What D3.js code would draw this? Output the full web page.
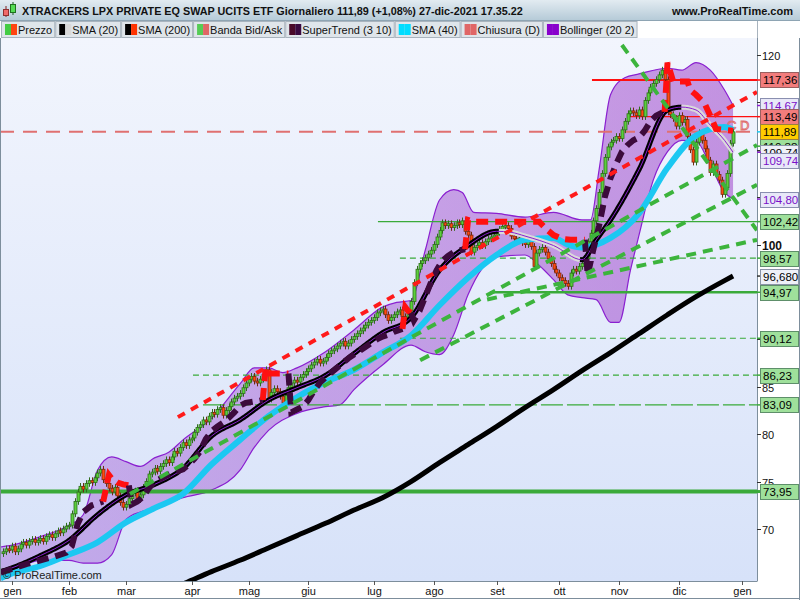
<!DOCTYPE html>
<html><head><meta charset="utf-8">
<script src="https://cdn.jsdelivr.net/npm/d3@7"></script>
<style>
body{margin:0;background:#fff;}
svg{display:block;font-family:"Liberation Sans",Arial,sans-serif;}
</style></head><body>
<svg id="c" width="800" height="600"></svg>
<script>
// ================= DATA =================
const titleText = "XTRACKERS LPX PRIVATE EQ SWAP UCITS ETF Giornaliero 111,89 (+1,08%) 27-dic-2021 17.35.22";
const siteText = "www.ProRealTime.com";
const legendNames = ["Prezzo","SMA (20)","SMA (200)","Banda Bid/Ask","SuperTrend (3 10)","SMA (40)","Chiusura (D)","Bollinger (20 2)"];
const monthLabels = ["gen","feb","mar","apr","mag","giu","lug","ago","set","ott","nov","dic","gen"];
const monthStartIdx = [0,20,40,63,83,104,127,148,170,192,213,234,256];
const yTickValues = [70,75,80,85,90,95,100,105,110,115,120];

// daily closes, trading-day index -3 .. 253
const firstIdx = -3;
const closes = [
 67.6,67.9,67.8,
 68.2,67.6,67.9,68.4,68.6,68.3,68.7,68.9,68.6,68.8,69.0,68.7,69.2,69.4,69.1,69.5,69.8,69.6,70.0,70.3,
 70.4,71.6,72.9,73.9,74.5,74.2,74.8,75.1,74.9,75.4,75.9,76.3,75.2,74.8,74.3,73.9,74.4,73.5,72.8,72.3,
 72.6,73.2,73.8,74.0,73.1,73.6,74.4,75.0,75.8,76.0,76.4,76.1,76.6,76.9,77.3,77.0,77.6,78.2,78.0,78.6,79.1,78.8,79.4,
 79.6,80.2,80.7,81.0,81.5,81.3,81.9,82.3,82.1,82.6,82.8,82.0,82.5,82.9,83.4,83.8,84.0,84.3,84.9,85.4,
 85.8,86.1,85.6,85.4,85.8,86.3,86.8,83.7,84.4,84.8,84.5,84.0,83.3,84.1,84.9,85.4,85.7,85.5,86.0,86.3,86.6,
 86.9,87.3,87.6,87.9,87.5,87.7,88.1,88.5,88.8,89.0,89.3,89.6,89.8,89.3,89.6,90.0,90.3,90.6,90.9,91.2,91.5,91.8,92.0,
 92.3,92.8,93.0,93.2,92.6,92.0,92.3,92.6,92.9,93.1,92.4,92.2,93.0,94.0,96.0,97.4,98.0,98.3,98.6,99.0,99.4,
 100.0,100.8,101.5,102.3,102.0,102.2,101.8,102.0,102.3,102.1,102.5,101.4,101.0,99.2,99.7,99.9,100.2,99.9,100.3,100.6,100.8,101.0,
 101.3,101.6,101.9,102.0,101.7,100.9,100.6,100.4,100.7,100.2,100.0,100.4,99.8,97.7,99.1,99.5,99.7,99.2,98.5,98.0,97.4,97.0,
 96.5,96.2,95.9,95.6,97.0,97.4,97.2,97.7,98.0,98.5,100.3,101.2,102.5,103.8,105.5,107.5,109.2,110.3,110.8,111.0,111.4,
 111.2,112.1,113.0,113.8,114.1,113.9,113.6,114.2,113.5,115.2,116.0,116.6,117.0,117.4,117.9,118.4,117.4,114.0,113.7,113.3,112.5,
 113.6,112.9,113.2,111.4,110.0,108.7,110.8,111.8,111.0,110.1,108.9,107.6,108.5,107.4,106.8,105.3,106.0,107.5,110.69,111.89
];

// SMA 20
const sma20Idx = [-4,0,10,20,30,40,50,60,70,80,90,100,110,120,130,140,150,160,170,175,180,190,200,205,210,220,230,235,240,245,250,253];
const sma20Val = [65.5,65.9,67.2,68.8,71.5,73.6,74.7,76.4,79.8,81.5,83.6,84.9,86.2,88.5,90.7,92.3,97.3,99.9,101.4,101.3,100.9,99.9,98.4,100.5,102.6,107.9,114.2,114.5,114.2,112.6,111.0,109.74];
// SMA 40
const sma40Idx = [-4,0,10,20,30,40,50,60,70,80,90,100,110,120,130,140,150,160,170,180,190,195,200,210,220,230,240,250,253];
const sma40Val = [64.8,65.3,66.1,67.3,68.6,70.7,72.2,73.7,76.8,79.4,81.9,83.9,85.5,86.8,88.6,90.4,93.6,96.5,98.9,100.5,100.7,100.0,99.7,100.7,103.3,108.1,111.5,112.4,112.1];
// SMA 200
const sma200Idx = [50,60,70,80,90,100,110,120,130,140,150,160,170,180,190,200,210,220,230,240,250,253];
const sma200Val = [63.0,64.2,65.5,66.7,68.0,69.3,70.6,72.0,73.3,75.0,77.0,78.9,80.8,82.8,84.7,86.7,88.6,90.6,92.6,94.5,96.2,96.68];
// Bollinger (20 2)
const bbUpIdx = [-4,0,10,20,25,30,35,40,45,50,55,60,70,80,85,90,95,100,110,120,130,135,140,145,150,155,158,162,170,180,190,200,203,206,210,215,220,230,235,240,245,250,253];
const bbUpVal = [68.1,68.3,69.2,70.4,71.5,76.2,77.6,77.1,76.6,77.5,78.1,79.4,81.7,85.3,87.0,87.0,86.5,87.0,88.7,91.0,93.4,93.9,94.1,99.4,104.7,105.8,105.5,103.4,103.3,102.9,103.4,102.6,102.6,107.9,115.8,117.6,118.0,118.6,118.4,119.2,118.4,116.3,114.67];
const bbLoIdx = [-4,0,10,20,25,30,35,40,45,50,60,70,80,85,90,100,110,115,120,130,140,145,150,155,160,165,170,180,185,190,195,200,205,210,213,217,220,225,230,235,240,245,250,253];
const bbLoVal = [65.5,65.7,66.7,66.7,66.4,66.4,67.3,71.0,71.8,72.2,73.3,74.1,76.2,78.6,80.4,82.2,82.9,83.1,84.7,87.3,89.4,88.7,88.4,90.5,94.7,97.5,98.7,98.9,97.8,96.3,94.7,94.4,94.2,91.8,91.8,97.3,101.0,106.8,109.8,111.0,110.9,108.4,105.5,104.8];

// SuperTrend (3 10): index, value, direction (1 up, -1 down)
const stIdx = [-4,0,5,10,15,19,21,23,25,28,32,
 34,35,37,39,41,
 42,44,46,48,50,52,54,56,58,60,62,64,66,68,70,72,74,76,78,80,82,84,86,88,
 89,90,92,94,96,97,
 98,100,102,104,106,108,110,112,114,116,118,120,122,124,126,128,130,132,134,136,137,
 138,139,140,
 141,143,145,147,149,151,153,155,157,159,
 160,162,165,170,175,180,185,188,190,193,196,199,201,
 202,204,206,208,210,212,214,216,218,220,222,224,226,228,229,
 230,231,232,235,237,238,240,242,243,245,247,250,253];
const stVal = [65.4,65.8,66.3,66.7,67.1,67.5,68.2,70.5,71.8,72.5,72.9,
 75.7,75.3,74.9,74.7,74.6,
 72.6,72.9,73.4,74.3,75.0,75.3,75.6,75.9,76.1,76.3,76.8,77.4,78.2,79.5,80.3,80.8,81.2,81.7,82.3,83.0,83.3,83.4,83.5,83.6,
 87.0,86.4,86.4,86.4,86.4,86.4,
 82.3,82.6,82.9,83.6,84.6,85.4,86.0,86.5,87.0,87.5,88.0,88.4,88.8,89.2,89.6,90.0,90.3,90.5,90.8,91.0,91.1,
 93.4,93.0,92.8,
 92.0,93.0,94.5,96.0,97.3,98.3,98.8,99.2,99.4,99.5,
 102.6,102.4,102.4,102.4,102.4,102.4,102.4,101.5,101.0,100.6,100.5,100.5,100.5,
 96.8,99.5,102.0,105.0,107.0,108.5,109.8,110.5,111.0,111.3,112.0,113.0,113.6,113.9,114.0,
 119.2,118.2,117.2,117.2,117.2,116.3,115.8,115.2,114.9,113.6,112.2,112.1,112.0];
const stDir = [1,1,1,1,1,1,1,1,1,1,1,
 -1,-1,-1,-1,-1,
 1,1,1,1,1,1,1,1,1,1,1,1,1,1,1,1,1,1,1,1,1,1,1,1,
 -1,-1,-1,-1,-1,-1,
 1,1,1,1,1,1,1,1,1,1,1,1,1,1,1,1,1,1,1,1,1,
 -1,-1,-1,
 1,1,1,1,1,1,1,1,1,1,
 -1,-1,-1,-1,-1,-1,-1,-1,-1,-1,-1,-1,-1,
 1,1,1,1,1,1,1,1,1,1,1,1,1,1,1,
 -1,-1,-1,-1,-1,-1,-1,-1,-1,-1,-1,-1,-1];

// horizontal levels (green)
const levelValues = [102.42,98.57,94.97,90.12,86.23,83.09,73.95];
const levelStartIdx = [128.4,136.1,167.7,136.1,63.5,67.0,-4.3];
// red horizontal lines
const redLevelValues = [117.36,113.49];
const redLevelStartIdx = [203.5,215.8];
// last close
const lastClose = 111.89;
// green dashed trend lines: start idx/val, end idx/val
const trendStartIdx = [41.4,143.2,166.7,214.0];
const trendStartVal = [73.7,87.8,94.2,121.05];
const trendEndIdx   = [261.4,261.4,261.4,261.4];
const trendEndVal   = [110.5,106.3,100.5,101.5];
// red dotted trend line
const redTrendIdx = [58.2,261.4];
const redTrendVal = [81.8,116.1];

// right-side value labels
const tagValues = [73.95,83.09,86.23,90.12,94.97,96.68,98.57,102.42,104.80,110.38,109.74,109.74,114.67,117.36,113.49,111.89];
const tagTexts  = ["73,95","83,09","86,23","90,12","94,97","96,680","98,57","102,42","104,80","110,38","109,74","109,74","114,67","117,36","113,49","111,89"];
const tagKinds  = ["lvl","lvl","lvl","lvl","lvl","sma","lvl","lvl","bb","lvl","sma","bb","bb","red","red","price"];

// ================= DRAW =================
const svg = d3.select("#c");
const PL=0, PR=757, PT=38, PB=581;
const x = d3.scaleLinear().domain([-4.21, 261.4]).range([0, 757]);
const y = d3.scaleLinear().domain([64.515, 121.79]).range([581, 38]);

const defs = svg.append("defs");
const gbg = defs.append("linearGradient").attr("id","pbg").attr("x1",0).attr("y1",0).attr("x2",0).attr("y2",1);
gbg.append("stop").attr("offset","0%").attr("stop-color","#f2f5fd");
gbg.append("stop").attr("offset","100%").attr("stop-color","#d7e2f9");
const gt = defs.append("linearGradient").attr("id","tbg").attr("x1",0).attr("y1",0).attr("x2",0).attr("y2",1);
gt.append("stop").attr("offset","0%").attr("stop-color","#e2ebf1");
gt.append("stop").attr("offset","100%").attr("stop-color","#b6cbd8");
const gbb = defs.append("linearGradient").attr("id","bbfill").attr("gradientUnits","userSpaceOnUse")
  .attr("x1",0).attr("y1",0).attr("x2",757).attr("y2",0);
gbb.append("stop").attr("offset","0%").attr("stop-color","#9a4ad0").attr("stop-opacity",0.36);
gbb.append("stop").attr("offset","50%").attr("stop-color","#9a40cc").attr("stop-opacity",0.44);
gbb.append("stop").attr("offset","100%").attr("stop-color","#9836c6").attr("stop-opacity",0.52);
defs.append("filter").attr("id","glow").attr("x","-2%").attr("y","-800%").attr("width","104%").attr("height","1700%")
  .append("feGaussianBlur").attr("stdDeviation",5);
defs.append("clipPath").attr("id","clip").append("rect").attr("x",PL).attr("y",PT).attr("width",PR-PL).attr("height",PB-PT);

// backgrounds
svg.append("rect").attr("width",800).attr("height",600).attr("fill","#ffffff");
svg.append("rect").attr("x",PL).attr("y",PT).attr("width",PR-PL).attr("height",PB-PT).attr("fill","url(#pbg)");

// title bar
svg.append("rect").attr("x",0).attr("y",0).attr("width",800).attr("height",20).attr("fill","url(#tbg)");
svg.append("line").attr("x1",0).attr("x2",800).attr("y1",20.5).attr("y2",20.5).attr("stroke","#8ea4b3");
svg.append("line").attr("x1",6).attr("x2",6).attr("y1",6).attr("y2",17).attr("stroke","#802020");
svg.append("rect").attr("x",3.5).attr("y",9.5).attr("width",5).attr("height",6).attr("fill","#f06a6a").attr("stroke","#903030");
svg.append("line").attr("x1",13).attr("x2",13).attr("y1",2).attr("y2",15).attr("stroke","#206020");
svg.append("rect").attr("x",10.5).attr("y",4.5).attr("width",5).attr("height",8).attr("fill","#55dd55").attr("stroke","#207020");
svg.append("text").attr("x",22).attr("y",15).attr("font-size",10.8).attr("font-weight","bold").attr("fill","#111").text(titleText);
svg.append("text").attr("x",793).attr("y",15).attr("text-anchor","end").attr("font-size",11).attr("font-weight","bold").attr("fill","#111").text(siteText);

// legend
const swatches = [["#44cc44","#ff4411"],["#000000","#d8d8d8"],["#000000","#ff3300"],["#55cc55","#e06666"],["#4a0a2a","#3a0a40"],["#00ddff","#00ddff"],["#e06666","#e06666"],["#8800cc","#8800cc"]];
svg.append("rect").attr("x",0).attr("y",21).attr("width",800).attr("height",17).attr("fill","#ffffff");
let lx = 1;
legendNames.forEach((nm,k)=>{
  const g = svg.append("g");
  const r = g.append("rect").attr("x",lx+0.5).attr("y",21.5).attr("height",16).attr("fill","#dfe5ea").attr("stroke","#a9b4be");
  g.append("rect").attr("x",lx+4).attr("y",24).attr("width",6).attr("height",11).attr("fill",swatches[k][0]);
  g.append("rect").attr("x",lx+10).attr("y",24).attr("width",6).attr("height",11).attr("fill",swatches[k][1]);
  const t = g.append("text").attr("x",lx+17).attr("y",34).attr("font-size",11).attr("fill","#111").text(nm);
  const w = t.node().getComputedTextLength()+19;
  r.attr("width",w);
  lx += w+1;
});
svg.append("line").attr("x1",757.5).attr("x2",757.5).attr("y1",21).attr("y2",38).attr("stroke","#a9b4be");

const plot = svg.append("g").attr("clip-path","url(#clip)");

// glow bands for horizontal levels
levelValues.forEach((v,k)=>{
  plot.append("line").attr("x1",x(levelStartIdx[k])).attr("x2",PR).attr("y1",y(v)).attr("y2",y(v))
    .attr("stroke", k===6?"#9fd39c":"#ffffff").attr("stroke-width",k===6?12:8).attr("opacity",k===6?0.8:0.9).attr("filter","url(#glow)");
});

// Bollinger band fill
const lineGen = d3.line().curve(d3.curveMonotoneX);
const upPts = bbUpIdx.map((d,k)=>[x(d),y(bbUpVal[k])]);
const loPts = bbLoIdx.map((d,k)=>[x(d),y(bbLoVal[k])]);
const upPath = lineGen(upPts);
const lowerRev = lineGen(loPts.slice().reverse());
plot.append("path").attr("d", upPath + "L" + lowerRev.slice(1) + "Z").attr("fill","url(#bbfill)").attr("stroke","none");
plot.append("path").attr("d",upPath).attr("fill","none").attr("stroke","#8a1fd0").attr("stroke-width",1.2);
plot.append("path").attr("d",lineGen(loPts)).attr("fill","none").attr("stroke","#8a1fd0").attr("stroke-width",1.2);

// horizontal green levels
const levelStyles = [{w:1.2,d:null},{w:1.2,d:"6,4"},{w:2.5,d:null},{w:1.2,d:"6,4"},{w:1.2,d:"6,4"},{w:1.2,d:"22,4"},{w:4,d:null}];
levelValues.forEach((v,k)=>{
  const ln = plot.append("line").attr("x1",x(levelStartIdx[k])).attr("x2",PR).attr("y1",y(v)).attr("y2",y(v))
    .attr("stroke","#3aaa3a").attr("stroke-width",levelStyles[k].w);
  if(levelStyles[k].d) ln.attr("stroke-dasharray",levelStyles[k].d);
});
redLevelValues.forEach((v,k)=>{
  plot.append("line").attr("x1",x(redLevelStartIdx[k])).attr("x2",PR).attr("y1",y(v)).attr("y2",y(v))
    .attr("stroke","#ff1010").attr("stroke-width",k===0?2:1.2);
});
plot.append("line").attr("x1",PL).attr("x2",PR).attr("y1",y(lastClose)).attr("y2",y(lastClose))
  .attr("stroke","#e07070").attr("stroke-width",2).attr("stroke-dasharray","14,9");
plot.append("text").attr("x",727).attr("y",y(lastClose)-2).attr("font-size",13).attr("fill","none")
  .attr("stroke","#e07070").attr("stroke-width",0.9).text("C D");

// candles
const candles = closes.map((c,k)=>({i:firstIdx+k, o: k===0 ? c-0.2 : closes[k-1], c}));
const wickPad = 0.35;
const cg = plot.append("g");
candles.forEach(d=>{
  const up = d.c >= d.o;
  const top = Math.max(d.o,d.c), bot = Math.min(d.o,d.c);
  const cx = Math.round(x(d.i))+0.5;
  cg.append("line").attr("x1",cx).attr("x2",cx).attr("y1",y(top+wickPad)).attr("y2",y(bot-wickPad))
    .attr("stroke", up?"#2f6e1c":"#6e2a10").attr("stroke-width",1);
  const h = Math.max(1.5, y(bot)-y(top));
  cg.append("rect").attr("x",cx-1.5).attr("y",y(top)).attr("width",3).attr("height",h)
    .attr("fill", up?"#5ccf3c":"#ff4a10").attr("stroke", up?"#2f6e1c":"#7a2a10").attr("stroke-width",0.8);
});

// SMA 200
plot.append("path").attr("d",lineGen(sma200Idx.map((d,k)=>[x(d),y(sma200Val[k])])))
  .attr("fill","none").attr("stroke","#000").attr("stroke-width",5);
// SMA 40
plot.append("path").attr("d",lineGen(sma40Idx.map((d,k)=>[x(d),y(sma40Val[k])])))
  .attr("fill","none").attr("stroke","#1cc8f2").attr("stroke-width",6);
// SMA 20: black when rising, light gray when falling (colour chosen along the curve)
const s20 = sma20Idx.map((d,k)=>[x(d),y(sma20Val[k])]);
const s20d = lineGen(s20);
const tmp = plot.append("path").attr("d",s20d).attr("fill","none").attr("stroke","none");
const node = tmp.node(), LEN = node.getTotalLength();
const samp = [];
for(let s=0;s<LEN;s+=1.5){ const p=node.getPointAtLength(s); samp.push([p.x,p.y]); }
{ const p=node.getPointAtLength(LEN); samp.push([p.x,p.y]); }
tmp.remove();
const runs20=[]; let r20=null;
for(let k=1;k<samp.length;k++){
  const a = samp[Math.max(0,k-3)], b = samp[Math.min(samp.length-1,k+2)];
  const col = (b[1]-a[1]) > 0.05 ? "#dadada" : "#000";
  if(!r20 || r20.col!==col){ r20={col,pts:[samp[k-1]]}; runs20.push(r20); }
  r20.pts.push(samp[k]);
}
runs20.forEach(r=>{
  plot.append("path").attr("d",d3.line()(r.pts)).attr("fill","none").attr("stroke",r.col).attr("stroke-width",5)
    .attr("stroke-linejoin","round");
});
plot.append("path").attr("d",s20d).attr("fill","none").attr("stroke","#8a1fd0").attr("stroke-width",1);

// SuperTrend
const stPts = stIdx.map((d,k)=>({px:x(d),py:y(stVal[k]),dir:stDir[k]}));
let runs=[], cur=null;
stPts.forEach(p=>{
  if(!cur || cur.dir!==p.dir){
    const prev = cur ? cur.pts[cur.pts.length-1] : null;
    cur = {dir:p.dir, pts: prev ? [prev] : []};
    runs.push(cur);
  }
  cur.pts.push(p);
});
runs.forEach(r=>{
  plot.append("path").attr("d",d3.line()(r.pts.map(p=>[p.px,p.py]))).attr("fill","none")
    .attr("stroke", r.dir>0 ? "#3c0a3c" : "#ff1010").attr("stroke-width",6)
    .attr("stroke-dasharray","12,7");
});

// green dashed trend lines
trendStartIdx.forEach((d,k)=>{
  plot.append("line").attr("x1",x(d)).attr("y1",y(trendStartVal[k])).attr("x2",x(trendEndIdx[k])).attr("y2",y(trendEndVal[k]))
    .attr("stroke","#3cb43c").attr("stroke-width",4).attr("stroke-dasharray","10,7");
});
plot.append("line").attr("x1",x(redTrendIdx[0])).attr("y1",y(redTrendVal[0])).attr("x2",x(redTrendIdx[1])).attr("y2",y(redTrendVal[1]))
  .attr("stroke","#ff1a1a").attr("stroke-width",4).attr("stroke-dasharray","8,7");

svg.append("text").attr("x",3).attr("y",579).attr("font-size",11).attr("fill","#222").text("\u00A9 ProRealTime.com");

// frame lines
svg.append("line").attr("x1",PR+0.5).attr("x2",PR+0.5).attr("y1",PT).attr("y2",PB).attr("stroke","#7d8e9c");
svg.append("line").attr("x1",0).attr("x2",PR+0.5).attr("y1",PB+0.5).attr("y2",PB+0.5).attr("stroke","#7d8e9c");
svg.append("line").attr("x1",0.5).attr("x2",0.5).attr("y1",PT).attr("y2",PB).attr("stroke","#7d8e9c");
svg.append("line").attr("x1",799.5).attr("x2",799.5).attr("y1",PT).attr("y2",600).attr("stroke","#7d8e9c");
svg.append("line").attr("x1",0).attr("x2",800).attr("y1",598.5).attr("y2",598.5).attr("stroke","#7d8e9c");

// bottom axis
const xa = svg.append("g");
monthStartIdx.forEach((d,k)=>{
  const px = Math.round(x(d))+0.5;
  xa.append("line").attr("x1",px).attr("x2",px).attr("y1",PB).attr("y2",PB+4).attr("stroke","#555");
  xa.append("text").attr("x",px).attr("y",595).attr("text-anchor","middle").attr("font-size",11).attr("fill","#111").text(monthLabels[k]);
});

// value tag positions (only identical values are pushed apart)
const order = tagValues.map((v,k)=>({k,v,py:y(v)})).sort((a,b)=>a.py-b.py);
for(let j=1;j<order.length;j++){
  if(order[j].v===order[j-1].v) order[j].py = order[j-1].py+8;
}
const tagY = {}; order.forEach(o=>tagY[o.k]=o.py);

// right axis ticks (labels hidden where a value tag sits on them)
const ya = svg.append("g");
yTickValues.forEach(v=>{
  const py = Math.round(y(v))+0.5;
  ya.append("line").attr("x1",PR).attr("x2",PR+4).attr("y1",py).attr("y2",py).attr("stroke","#333");
  const covered = tagValues.some((tv,k)=>Math.abs(tagY[k]-y(v))<7);
  if(!covered){
    ya.append("text").attr("x",PR+5).attr("y",py+4).attr("font-size",v===100?12:11)
      .attr("font-weight",v===100?"bold":"normal").attr("fill","#111").text(v);
  }
});

// value tags
const tagStyle = {
  lvl:{fill:"#9fe09b",stroke:"#5e8f6a",text:"#000",tick:"#3aaa3a"},
  sma:{fill:"#eef0f8",stroke:"#8a93a6",text:"#000",tick:"#333"},
  bb:{fill:"#e8e8f8",stroke:"#8a8fb0",text:"#7a10c8",tick:"#8a1fd0"},
  red:{fill:"#f27c7c",stroke:"#9a6060",text:"#000",tick:"#ff1010"},
  price:{fill:"#ffcc00",stroke:"#9a8040",text:"#000",tick:"#1cc8f2"}
};
tagValues.forEach((v,k)=>{
  const st = tagStyle[tagKinds[k]];
  const py = tagY[k];
  const g = svg.append("g");
  g.append("line").attr("x1",PR).attr("x2",PR+4).attr("y1",y(v)).attr("y2",y(v))
    .attr("stroke",st.tick).attr("stroke-width",tagKinds[k]==="lvl"&&v<75?3:1.5);
  g.append("rect").attr("x",PR+3.5).attr("y",Math.round(py-7.5)+0.5).attr("width",38).attr("height",15)
    .attr("fill",st.fill).attr("stroke",st.stroke);
  g.append("text").attr("x",PR+6).attr("y",Math.round(py-7.5)+12).attr("font-size",11.5).attr("fill",st.text).text(tagTexts[k]);
});
</script>
</body></html>
